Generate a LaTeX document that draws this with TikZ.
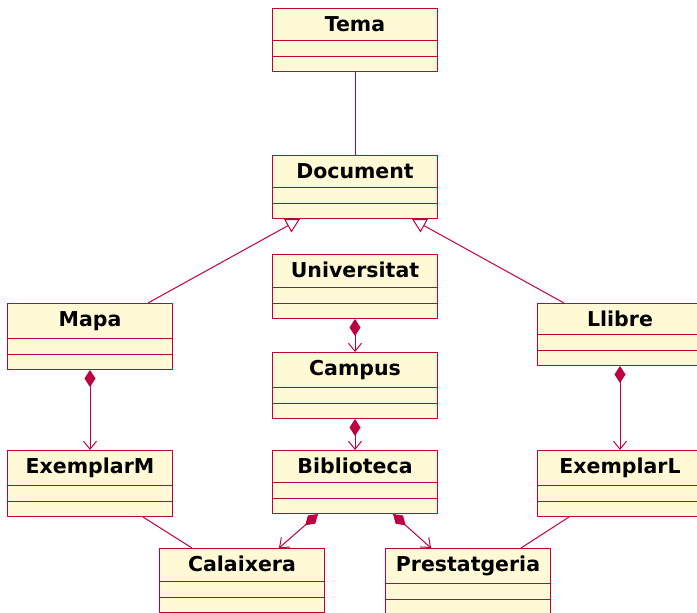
\documentclass[tikz,border=0pt]{standalone}
\usepackage{fontspec}
\setmainfont{DejaVu Sans}
\usetikzlibrary{arrows.meta}
\definecolor{umlline}{HTML}{BE0040}
\definecolor{umlfill}{HTML}{FFF9D6}
\begin{document}
\begin{tikzpicture}[x=1pt, y=-1pt, line width=1pt, line join=round,
 cls/.style={draw=umlline, fill=umlfill, minimum width=165pt, inner xsep=4pt, inner ysep=0pt,
  anchor=north west, font=\fontsize{20.5}{24}\selectfont\bfseries,
  text height=23pt, text depth={#1pt+8pt},
  path picture={\draw[umlline]
   ([yshift=-#1pt]path picture bounding box.north west) -- ([yshift=-#1pt]path picture bounding box.north east)
   ([yshift=-#1pt-15.5pt]path picture bounding box.north west) -- ([yshift=-#1pt-15.5pt]path picture bounding box.north east);}},
 cls/.default=32,
 assoc/.style={draw=umlline},
 comp/.style={draw=umlline, {Diamond[length=17pt,width=11pt]}-{Straight Barb[length=8pt,width=13pt]}},
 gen/.style={draw=umlline, -{Triangle[length=14pt,width=15pt,fill=white]}}]
 \useasboundingbox (0,0) rectangle (697,613);
 % classes
 \node[cls] (tema) at (272,8) {Tema};
 \node[cls] (document) at (272,155) {Document};
 \node[cls=33] (universitat) at (272,254) {Universitat};
 \node[cls=35] (campus) at (272,352) {Campus};
 \node[cls] (biblioteca) at (272,450) {Biblioteca};
 \node[cls=35] (mapa) at (7,303) {Mapa};
 \node[cls=31] (llibre) at (537,303) {Llibre};
 \node[cls=35] (exemplarM) at (7,450) {ExemplarM};
 \node[cls=35] (exemplarL) at (537,450) {ExemplarL};
 \node[cls=33] (calaixera) at (159,548) {Calaixera};
 \node[cls=35] (prestatgeria) at (385,548) {Prestatgeria};
 % relations
 \draw[assoc] (tema.south) -- (document.north);
 \draw[gen] ([xshift=58pt]mapa.north) -- ([xshift=-55pt]document.south);
 \draw[gen] ([xshift=-56pt]llibre.north) -- ([xshift=57pt]document.south);
 \draw[comp] (universitat.south) -- (campus.north);
 \draw[comp] (campus.south) -- (biblioteca.north);
 \draw[comp] (mapa.south) -- (exemplarM.north);
 \draw[comp] (llibre.south) -- (exemplarL.north);
 \draw[comp] ([xshift=-37pt]biblioteca.south) -- ([xshift=37pt]calaixera.north);
 \draw[comp] ([xshift=38pt]biblioteca.south) -- ([xshift=-37pt]prestatgeria.north);
 \draw[assoc] ([xshift=53pt]exemplarM.south) -- ([xshift=-50pt]calaixera.north);
 \draw[assoc] ([xshift=-51pt]exemplarL.south) -- ([xshift=53pt]prestatgeria.north);
\end{tikzpicture}
\end{document}
